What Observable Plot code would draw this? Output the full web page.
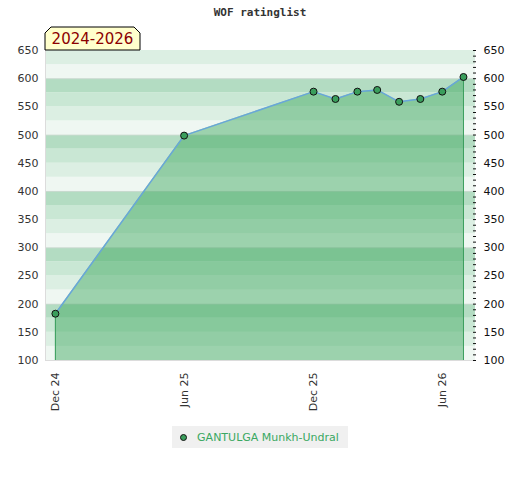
<!DOCTYPE html>
<html>
<head>
<meta charset="utf-8">
<script src="https://cdn.jsdelivr.net/npm/d3@7"></script>
<script src="https://cdn.jsdelivr.net/npm/@observablehq/plot@0.6"></script>
<style>
  html, body { margin: 0; padding: 0; background: #fff; }
  #wrap { width: 520px; position: relative; }
  #title { height: 26px; font: bold 11px "DejaVu Sans Mono", monospace; line-height: 26px; text-align: center; color: #333; }
  #legend { display: flex; justify-content: center; }
  #legend .box { background: #f0f0f0; height: 22px; display: flex; align-items: center; padding: 0 9px 0 8px; font: 11px "DejaVu Sans", sans-serif; color: #3aa862; }
  #legend .dot { width: 7px; height: 7px; border-radius: 50%; background: #3a9e5c; border: 1px solid #111; margin-right: 10px; box-sizing: border-box; }
</style>
</head>
<body>
<div id="wrap">
  <div id="title">WOF ratinglist</div>
  <div id="chart"></div>
  <div id="legend"><div class="box"><span class="dot"></span><span id="pname"></span></div></div>
</div>
<script>
// ---- data ----
const dates = ["2024-12-01","2025-06-01","2025-12-01","2026-01-01","2026-02-01","2026-03-01","2026-04-01","2026-05-01","2026-06-01","2026-07-01"];
const ratings = [183, 499, 577, 564, 577, 580, 559, 564, 577, 603];
const xTicks = ["2024-12-01","2025-06-01","2025-12-01","2026-06-01"];
const yLabels = [100,150,200,250,300,350,400,450,500,550,600,650];
const playerName = "GANTULGA Munkh-Undral";
const periodLabel = "2024-2026";

document.getElementById("pname").textContent = playerName;

const parse = d3.utcParse("%Y-%m-%d");
const data = dates.map((d, i) => ({date: parse(d), rating: ratings[i]}));
const first = data[0], last = data[data.length - 1];

// background bands (25-point steps, shade depends on position inside each 100 block)
const shades = ["#eff7f2", "#dcefe3", "#c9e7d4", "#b3dcc2"];
const bands = d3.range(100, 650, 25).map(v => ({y1: v, y2: v + 25, fill: shades[((v % 100) / 25)]}));

const chart = Plot.plot({
  width: 520,
  height: 400,
  marginLeft: 45,
  marginRight: 45,
  marginTop: 24,
  marginBottom: 66,
  style: {fontFamily: "DejaVu Sans, sans-serif", fontSize: "11px", color: "#333", overflow: "visible"},
  x: {type: "utc", domain: [parse("2024-11-17"), parse("2026-07-18")]},
  y: {domain: [100, 650]},
  marks: [
    Plot.rectY(bands, {y1: "y1", y2: "y2", fill: "fill"}),
    Plot.ruleY(d3.range(100, 651, 100), {stroke: "#d8d8d8", strokeWidth: 1, strokeOpacity: 0.6}),
    Plot.areaY(data, {x: "date", y1: 100, y2: "rating", fill: "rgb(55,165,89)", fillOpacity: 0.45}),
    Plot.ruleX([first, last], {x: "date", y1: 100, y2: "rating", stroke: "#3a9e5c", strokeWidth: 1}),
    Plot.lineY(data, {x: "date", y: "rating", stroke: "#68a6d9", strokeWidth: 1.5}),
    Plot.dot(data, {x: "date", y: "rating", r: 3.5, fill: "#3a9e5c", stroke: "#111", strokeWidth: 1}),
    Plot.ruleX([parse("2024-11-17")], {stroke: "#dcdcdc"}),
    Plot.ruleY([100], {stroke: "#dcdcdc"}),
    Plot.axisY({anchor: "left", ticks: yLabels, tickSize: 0, tickPadding: 7, label: null, fill: "#333"}),
    Plot.axisY({anchor: "right", ticks: d3.range(100, 651, 10), tickSize: 3, insetRight: 3, tickFormat: () => "", label: null, stroke: "#111"}),
    Plot.axisY({anchor: "right", ticks: yLabels, tickSize: 0, tickPadding: 8, label: null, fill: "#111"}),
    Plot.axisX({ticks: xTicks.map(parse), tickFormat: d3.utcFormat("%b %y"), tickRotate: -90, tickSize: 0, tickPadding: 12, label: null, fill: "#333"})
  ]
});
document.getElementById("chart").appendChild(chart);

// period label tab above plot
const svg = d3.select(chart);
const tabX = 45, tabW = 95, tabTop = 1, tabBot = 24, tabC = 6;
const g = svg.append("g");
g.append("path")
  .attr("d", `M${tabX},${tabBot} L${tabX},${tabTop + tabC} L${tabX + tabC},${tabTop} L${tabX + tabW - tabC},${tabTop} L${tabX + tabW},${tabTop + tabC} L${tabX + tabW},${tabBot} Z`)
  .attr("fill", "#ffffcc").attr("stroke", "#000").attr("stroke-width", 1);
g.append("text")
  .attr("x", tabX + tabW / 2).attr("y", 18).attr("text-anchor", "middle")
  .attr("fill", "#8b0000").style("font", "15px 'DejaVu Sans', sans-serif")
  .text(periodLabel);
</script>
</body>
</html>
